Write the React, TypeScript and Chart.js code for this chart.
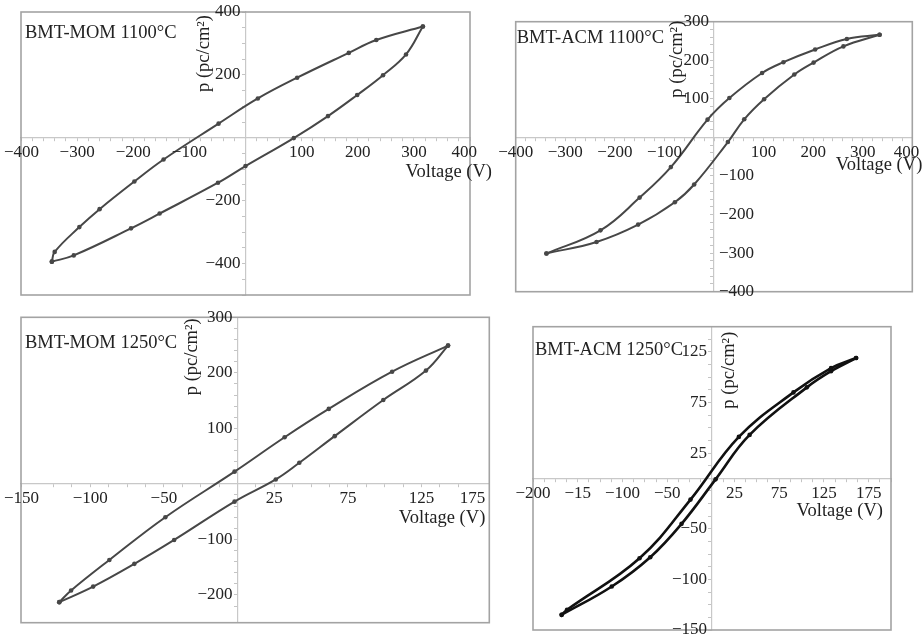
import React, { useEffect, useRef } from "react";
import { Chart, registerables } from "chart.js";

Chart.register(...registerables);

const FONT = '"Liberation Serif", "DejaVu Serif", serif';

// ---- BMT-MOM 1100°C ----
const mom1100DownV = [316, 233, 184, 92, 22, -48, -146, -198, -260, -296, -340, -345];
const mom1100DownP = [354, 311, 270, 191, 125, 45, -69, -139, -227, -284, -363, -394];
const mom1100UpV = [-345, -306, -204, -153, -49, 0, 86, 147, 199, 245, 286, 316];
const mom1100UpP = [-394, -374, -288, -241, -143, -90, -1, 69, 136, 199, 265, 354];
const mom1100XTicks = [-400, -300, -200, -100, 100, 200, 300, 400];
const mom1100YTicks = [400, 200, -200, -400];

// ---- BMT-ACM 1100°C ----
const acm1100DownV = [334, 268, 204, 140, 97, 31, -13, -87, -150, -229, -338];
const acm1100DownP = [266, 255, 228, 195, 167, 102, 46, -77, -156, -241, -301];
const acm1100UpV = [-338, -237, -153, -79, -40, 28, 61, 101, 162, 201, 261, 334];
const acm1100UpP = [-301, -271, -226, -168, -122, -12, 47, 99, 163, 194, 236, 266];
const acm1100XTicks = [-400, -300, -200, -100, 100, 200, 300, 400];
const acm1100YTicks = [300, 200, 100, -100, -200, -300, -400];

// ---- BMT-MOM 1250°C ----
const mom1250DownV = [143, 105, 62, 32, -2, -49, -87, -113, -121];
const mom1250DownP = [249, 202, 135, 84, 22, -60, -137, -192, -213];
const mom1250UpV = [-121, -98, -70, -43, -2, 26, 42, 66, 99, 128, 143];
const mom1250UpP = [-213, -185, -144, -101, -32, 8, 38, 86, 151, 204, 249];
const mom1250XTicks = [-150, -100, -50, 25, 75, 125, 175];
const mom1250YTicks = [300, 200, 100, -100, -200];

// ---- BMT-ACM 1250°C ----
const acm1250DownV = [161, 133, 91, 30, -24, -81, -162, -168];
const acm1250DownP = [119, 109, 85, 41, -21, -79, -130, -135];
const acm1250UpV = [-168, -112, -69, -34, 4, 42, 106, 133, 161];
const acm1250UpP = [-135, -107, -78, -45, -1, 43, 90, 106, 119];
const acm1250XTicks = [-200, -150, -100, -50, 25, 75, 125, 175];
const acm1250XTickText = ["\u2212200", "\u221215", "\u2212100", "\u221250", "25", "75", "125", "175"];
const acm1250YTicks = [125, 75, 25, -50, -100, -150];

const X_TITLE = "Voltage (V)";
const Y_TITLE = "p (pc/cm\u00B2)";

type Pt = { x: number; y: number };
const zip = (v: number[], p: number[]): Pt[] => v.map((x, i) => ({ x, y: p[i] }));
const fmt = (v: number) => (v < 0 ? "\u2212" + Math.abs(v) : String(v));

interface PanelCfg {
  label: string;
  frame: { left: number; top: number; width: number; height: number };
  pad: { left: number; top: number; right: number; bottom: number };
  xMin: number; xMax: number; yMin: number; yMax: number;
  xStep: number; yStep: number;
  down: Pt[]; up: Pt[];
  color: string; lineWidth: number;
  xTicks: number[]; xTickText?: string[];
  yTicks: number[]; yNegRight?: boolean;
  xOverhang: number;
  yTitle: { dx: number; dy: number };
  xTitle: { dx: number; dy: number };
  tag: { dx: number; dy: number };
}

const panels: PanelCfg[] = [
  {
    label: "BMT-MOM 1100\u00B0C",
    frame: { left: 0, top: 0, width: 500, height: 302 },
    pad: { left: 21, top: 12, right: 30, bottom: 7 },
    xMin: -400, xMax: 400, yMin: -500, yMax: 400, xStep: 20, yStep: 50,
    down: zip(mom1100DownV, mom1100DownP), up: zip(mom1100UpV, mom1100UpP),
    color: "#474747", lineWidth: 2,
    xTicks: mom1100XTicks, yTicks: mom1100YTicks,
    xOverhang: 7,
    yTitle: { dx: -41, dy: 3 }, xTitle: { dx: 22, dy: 34 }, tag: { dx: 4, dy: 21 },
  },
  {
    label: "BMT-ACM 1100\u00B0C",
    frame: { left: 470, top: 0, width: 454, height: 302 },
    pad: { left: 45.7, top: 21.7, right: 11.7, bottom: 10.3 },
    xMin: -400, xMax: 400, yMin: -400, yMax: 300, xStep: 20, yStep: 20,
    down: zip(acm1100DownV, acm1100DownP), up: zip(acm1100UpV, acm1100UpP),
    color: "#474747", lineWidth: 2,
    xTicks: acm1100XTicks, yTicks: acm1100YTicks, yNegRight: true,
    xOverhang: 7,
    yTitle: { dx: -37, dy: -1 }, xTitle: { dx: 10, dy: 28 }, tag: { dx: 1, dy: 16 },
  },
  {
    label: "BMT-MOM 1250\u00B0C",
    frame: { left: 0, top: 305, width: 500, height: 329 },
    pad: { left: 21, top: 12.3, right: 10.7, bottom: 11.3 },
    xMin: -147, xMax: 171, yMin: -250, yMax: 300, xStep: 12.5, yStep: 20,
    down: zip(mom1250DownV, mom1250DownP), up: zip(mom1250UpV, mom1250UpP),
    color: "#474747", lineWidth: 2,
    xTicks: mom1250XTicks, yTicks: mom1250YTicks,
    xOverhang: -4,
    yTitle: { dx: -45, dy: 1 }, xTitle: { dx: -4, dy: 34 }, tag: { dx: 4, dy: 26 },
  },
  {
    label: "BMT-ACM 1250\u00B0C",
    frame: { left: 490, top: 305, width: 434, height: 329 },
    pad: { left: 43, top: 21.7, right: 33, bottom: 4 },
    xMin: -200, xMax: 200, yMin: -150, yMax: 150, xStep: 12.5, yStep: 12.5,
    down: zip(acm1250DownV, acm1250DownP), up: zip(acm1250UpV, acm1250UpP),
    color: "#111111", lineWidth: 2.6,
    xTicks: acm1250XTicks, xTickText: acm1250XTickText, yTicks: acm1250YTicks,
    xOverhang: 0,
    yTitle: { dx: 17, dy: 5 }, xTitle: { dx: -8, dy: 33 }, tag: { dx: 2, dy: 23 },
  },
];

function decor(cfg: PanelCfg) {
  return {
    id: "decor",
    beforeDatasetsDraw(chart: any) {
      const { ctx, chartArea: a } = chart;
      ctx.save();
      ctx.strokeStyle = "#a3a3a3";
      ctx.lineWidth = 1.6;
      ctx.strokeRect(a.left, a.top, a.right - a.left, a.bottom - a.top);
      ctx.restore();
    },
    afterDatasetsDraw(chart: any) {
      const { ctx, chartArea: a, scales } = chart;
      const xs = scales.x;
      const ys = scales.y;
      const x0 = xs.getPixelForValue(0);
      const y0 = ys.getPixelForValue(0);
      ctx.save();
      ctx.fillStyle = "#222";
      ctx.font = `17px ${FONT}`;
      // x tick labels
      ctx.textBaseline = "middle";
      ctx.textAlign = "center";
      cfg.xTicks.forEach((v, i) => {
        const t = cfg.xTickText ? cfg.xTickText[i] : fmt(v);
        const w = ctx.measureText(t).width;
        let px = xs.getPixelForValue(v);
        if (px + w / 2 > a.right + cfg.xOverhang) px = a.right + cfg.xOverhang - w / 2;
        if (px - w / 2 < 4) px = 4 + w / 2;
        ctx.fillText(t, px, y0 + 15);
      });
      // y tick labels
      cfg.yTicks.forEach((v) => {
        const py = ys.getPixelForValue(v);
        if (cfg.yNegRight && v < 0) {
          ctx.textAlign = "left";
          ctx.fillText(fmt(v), x0 + 5, py);
        } else {
          ctx.textAlign = "right";
          ctx.fillText(fmt(v), x0 - 5, py);
        }
      });
      // x title
      ctx.font = `18.5px ${FONT}`;
      ctx.textAlign = "right";
      ctx.fillText(X_TITLE, a.right + cfg.xTitle.dx, y0 + cfg.xTitle.dy);
      // y title
      ctx.save();
      ctx.translate(x0 + cfg.yTitle.dx, a.top + cfg.yTitle.dy);
      ctx.rotate(-Math.PI / 2);
      ctx.textAlign = "right";
      ctx.fillText(Y_TITLE, 0, 0);
      ctx.restore();
      // panel tag
      ctx.textAlign = "left";
      ctx.font = `18.5px ${FONT}`;
      ctx.fillText(cfg.label, a.left + cfg.tag.dx, a.top + cfg.tag.dy);
      ctx.restore();
    },
  };
}

function Panel({ cfg }: { cfg: PanelCfg }) {
  const ref = useRef<HTMLCanvasElement>(null);
  useEffect(() => {
    const ds = (data: Pt[]) => ({
      data,
      borderColor: cfg.color,
      backgroundColor: cfg.color,
      borderWidth: cfg.lineWidth,
      pointRadius: 2.3,
      pointHoverRadius: 2.3,
      pointBorderWidth: 0,
      tension: 0.4,
      fill: false,
    });
    const axisCommon = {
      type: "linear" as const,
      grid: { display: true, drawOnChartArea: false, drawTicks: true, tickLength: 3, color: "#c4c4c4", lineWidth: 1 },
      border: { display: true, color: "#c8c8c8", width: 1.2, dash: [2, 2] },
    };
    const chart = new Chart(ref.current as HTMLCanvasElement, {
      type: "line",
      data: { datasets: [ds(cfg.down), ds(cfg.up)] },
      options: {
        animation: false,
        responsive: false,
        events: [],
        layout: { padding: cfg.pad },
        plugins: { legend: { display: false }, tooltip: { enabled: false } },
        scales: {
          x: {
            ...axisCommon,
            min: cfg.xMin, max: cfg.xMax,
            position: { y: 0 } as any,
            ticks: { display: false, stepSize: cfg.xStep },
          },
          y: {
            ...axisCommon,
            min: cfg.yMin, max: cfg.yMax,
            position: { x: 0 } as any,
            ticks: { display: false, stepSize: cfg.yStep },
          },
        },
      } as any,
      plugins: [decor(cfg)],
    });
    return () => chart.destroy();
  }, [cfg]);
  return (
    <canvas
      ref={ref}
      width={cfg.frame.width}
      height={cfg.frame.height}
      style={{ position: "absolute", left: cfg.frame.left, top: cfg.frame.top, width: cfg.frame.width, height: cfg.frame.height }}
    />
  );
}

export default function App() {
  return (
    <div style={{ position: "absolute", left: 0, top: 0, width: 924, height: 634, background: "#fff", overflow: "hidden" }}>
      {panels.map((p) => (
        <Panel key={p.label} cfg={p} />
      ))}
    </div>
  );
}
